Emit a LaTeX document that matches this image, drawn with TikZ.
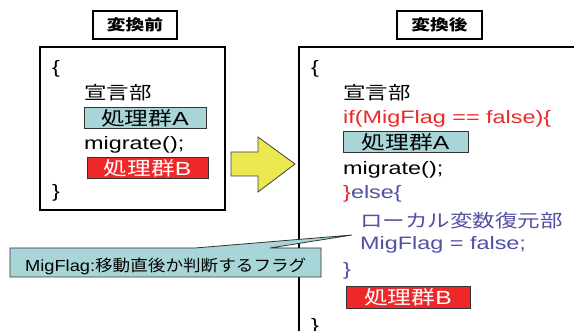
\documentclass[tikz,border=0pt]{standalone}
\usepackage{fontspec}
\setmainfont{Liberation Sans}[FakeStretch=1.3]
\newfontfamily\jp{Noto Sans CJK JP}[FakeStretch=1.25]
\newfontfamily\latS{Liberation Sans}[FakeStretch=1.14]
\newfontfamily\jpS{Noto Sans CJK JP}[FakeStretch=1.1]
\newcommand{\jtxt}[1]{{\jp #1}}
\definecolor{tealbox}{RGB}{168,214,216}
\definecolor{redbox}{RGB}{238,40,40}
\definecolor{redtxt}{RGB}{236,40,40}
\definecolor{bluetxt}{RGB}{80,80,165}
\definecolor{arrowyel}{RGB}{234,232,78}
\begin{document}
\begin{tikzpicture}[x=1pt,y=-1pt,
  codeline/.style={anchor=base west, inner sep=0pt, font=\fontsize{18}{20}\selectfont},
  titlebox/.style={draw=black, line width=1.4pt, minimum height=28pt, inner sep=0pt, font=\fontsize{15}{17}\selectfont\jp\bfseries},
  procA/.style={draw=black!80, line width=1pt, fill=tealbox, inner sep=0pt, text height=15pt, text depth=0pt, minimum height=21pt, font=\fontsize{19}{21}\selectfont},
  procB/.style={draw=black!80, line width=1pt, fill=redbox, text=white, inner sep=0pt, text height=15pt, text depth=0pt, minimum height=21.5pt, font=\fontsize{19}{21}\selectfont},
  mainbox/.style={draw=black, line width=2.2pt}
]
\useasboundingbox (0,0) rectangle (574,331);
\clip (0,0) rectangle (574,331);
\fill[white] (0,0) rectangle (574,331);

% titles
\node[titlebox, minimum width=84pt] (tbefore) at (135,25) {変換前};
\node[titlebox, minimum width=85pt] (tafter) at (439.5,25) {変換後};

% left box
\draw[mainbox] (40,47) rectangle (225,210);
\node[codeline] (l1) at (52,74) {\{};
\node[codeline] (l2) at (84,100) {\jtxt{宣言部}};
\node[procA, minimum width=122pt] (lA) at (145,118.5) {\jtxt{処理群}A};
\node[codeline] (l3) at (84,150) {migrate();};
\node[procB, minimum width=121pt] (lB) at (147.5,168) {\jtxt{処理群}B};
\node[codeline] (l4) at (52,198) {\}};

% arrow
\draw[fill=arrowyel, draw=black!75, line width=0.8pt, line join=miter]
  (231,152) -- (258,152) -- (258,137) -- (295,164) -- (258,192) -- (258,176) -- (231,176) -- cycle;

% right box
\draw[mainbox] (299,360) -- (299,47) -- (600,47);
\node[codeline] (r1) at (311,74) {\{};
\node[codeline] (r2) at (343,100) {\jtxt{宣言部}};
\node[codeline, text=redtxt] (r3) at (343,124) {if(MigFlag == false)\{};
\node[procA, minimum width=125pt] (rA) at (405.5,142.5) {\jtxt{処理群}A};
\node[codeline] (r4) at (343,175) {migrate();};
\node[codeline] (r5) at (343,199) {\textcolor{redtxt}{\}}\textcolor{bluetxt}{else\{}};
\node[codeline, text=bluetxt] (r6) at (360,228) {\jtxt{ローカル変数復元部}};
\node[codeline, text=bluetxt] (r7) at (360,250) {MigFlag = false;};
\node[codeline, text=bluetxt] (r8) at (343,276) {\}};
\node[procB, minimum width=124pt] (rB) at (408,297.5) {\jtxt{処理群}B};
\node[codeline] (r9) at (311,332) {\}};

% callout
\coordinate (tip) at (352,235);
\draw[fill=tealbox, draw=black!80, line width=0.8pt, line join=miter]
  (10,248) -- (195,248) -- (tip) -- (270,248) -- (321,248) -- (321,277) -- (10,277) -- cycle;
\node[anchor=base west, inner sep=0pt, font=\fontsize{16}{18}\selectfont\latS] (callout) at (25,272) {MigFlag:{\jpS 移動直後か判断するフラグ}};
\end{tikzpicture}
\end{document}
